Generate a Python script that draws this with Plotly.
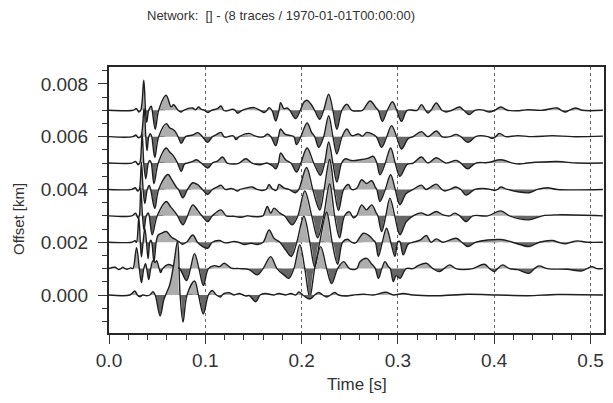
import plotly.graph_objects as go

# Trace offsets (km)
offsets_km = [0.000, 0.001, 0.002, 0.003, 0.004, 0.005, 0.006, 0.007]

# Waveforms: (time [s], amplitude [counts])
tr0 = [(0,0),(0.0217,0),(0.0268,4),(0.0294,0),(0.0320,-1.7),(0.0351,0),(0.0392,-0.7),(0.0423,0),(0.0457,3.3),(0.0480,0),
       (0.0531,-21),(0.0568,-5),(0.0588,0),(0.0630,10),(0.0671,30),(0.0712,54),(0.0738,0),(0.0769,-27),(0.0810,0),(0.0888,14),
       (0.0929,0),(0.0980,-19),(0.1032,0),(0.1073,4.5),(0.1115,0),(0.1156,-2),(0.1177,0),(0.1197,1.5),(0.1249,2.3),(0.1300,0),
       (0.1352,1.5),(0.1393,0),(0.1424,-1),(0.1455,-0.5),(0.1524,-6.7),(0.1569,0),(0.1620,1.5),(0.1713,0),(0.1765,1.5),(0.1837,0),
       (0.1889,1.5),(0.1940,0),(0.1971,3),(0.2012,0),(0.2085,-4),(0.2136,0),(0.2178,2.5),(0.2219,0),(0.2260,-2),(0.2301,0),
       (0.2343,2.5),(0.2384,0),(0.2456,-1),(0.2539,0),(0.2642,0.7),(0.2745,0),(0.2879,2.7),(0.2952,0),(0.3055,1.5),(0.3158,0),
       (0.3416,-0.7),(0.3726,0.7),(0.4035,0),(0.4345,-0.7),(0.4654,0.5),(0.5129,0)]

tr1 = [(0,0),(0.0062,1.3),(0.0083,0),(0.0103,-1),(0.0124,0),(0.0144,1.3),(0.0165,0),(0.0186,-0.7),(0.0206,0),(0.0227,0.7),
       (0.0248,0),(0.0286,21),(0.0315,0),(0.0337,-14),(0.0361,0),(0.0379,5),(0.0392,0),(0.0413,-11),(0.0433,0),(0.0457,8),
       (0.0480,6),(0.0495,8),(0.0521,0),(0.0537,-4),(0.0557,0),(0.0609,4),(0.0681,2),(0.0733,0),(0.0805,-12),(0.0846,0),
       (0.0888,15),(0.0934,0),(0.0980,-17),(0.1032,0),(0.1094,3),(0.1146,2),(0.1197,5.3),(0.1269,0.5),(0.1352,0),(0.1455,-1),
       (0.1541,-6.3),(0.1600,0),(0.1679,12),(0.1744,0),(0.1816,-6.3),(0.1868,-9.7),(0.1920,0),(0.1981,24),(0.2033,0),(0.2085,-29),
       (0.2136,0),(0.2198,22),(0.2260,0),(0.2312,-15),(0.2374,0),(0.2436,7),(0.2497,0),(0.2549,-1),(0.2575,0),(0.2608,7),
       (0.2676,10.3),(0.2724,5),(0.2766,0),(0.2797,-9.7),(0.2833,0),(0.2866,7),(0.2900,2),(0.2921,0),(0.2952,-13),(0.2982,-7),
       (0.3021,-9.7),(0.3086,0),(0.3158,0),(0.3210,3),(0.3295,5.3),(0.3364,0),(0.3433,-3),(0.3478,0),(0.3537,3.7),(0.3602,0),
       (0.3674,-1),(0.3777,0),(0.3898,4.3),(0.3953,0),(0.4001,-3),(0.4035,0),(0.4087,3.7),(0.4159,0),(0.4242,-1),(0.4362,-4.7),
       (0.4417,0),(0.4466,2.7),(0.4551,0),(0.4757,-0.7),(0.4912,-2.3),(0.4964,0),(0.5016,2),(0.5067,0),(0.5129,0)]

tr2 = [(0,0),(0.0237,0),(0.0270,1.5),(0.0285,0),(0.0310,25),(0.0325,0),(0.0337,-14.7),(0.0354,0),(0.0372,13.7),(0.0389,0),
       (0.0406,-16.3),(0.0423,0),(0.0433,2),(0.0444,0),(0.0467,-19.7),(0.0490,0),(0.0509,7),(0.0547,9),(0.0595,10.7),(0.0650,5),
       (0.0702,2),(0.0733,0),(0.0764,-2),(0.0805,0),(0.0870,7.3),(0.0918,0),(0.0973,-4.3),(0.1025,-6),(0.1073,0),(0.1146,1.7),
       (0.1187,0),(0.1218,-0.7),(0.1259,0),(0.1300,0.7),(0.1342,0),(0.1404,-2.3),(0.1476,-1),(0.1538,-2.3),(0.1600,0),(0.1662,12.3),
       (0.1713,4),(0.1775,0),(0.1834,-7.7),(0.1892,-14.3),(0.1950,0),(0.2023,26),(0.2085,0),(0.2136,-25),(0.2188,0),(0.2260,30),
       (0.2317,0),(0.2374,-22),(0.2425,0),(0.2477,3),(0.2518,0),(0.2549,-1),(0.2570,0),(0.2642,9),(0.2711,5.7),(0.2745,2),
       (0.2766,0),(0.2797,-14.3),(0.2838,0),(0.2882,14),(0.2926,0),(0.2969,-14.3),(0.2998,0),(0.3013,1),(0.3024,0),(0.3055,-12.7),
       (0.3106,-2),(0.3158,0),(0.3230,2),(0.3295,6.7),(0.3344,0),(0.3398,3.3),(0.3468,0),(0.3605,4),(0.3664,0),(0.3726,-4.3),
       (0.3808,0),(0.4066,2.7),(0.4190,0),(0.4362,-4.3),(0.4469,0),(0.4603,1.7),(0.4665,0),(0.4737,-1.7),(0.4799,0),(0.4861,1.3),
       (0.4964,0),(0.5129,0)]

tr3 = [(0,0),(0.0237,0),(0.0276,2.7),(0.0302,-2.3),(0.0315,0),(0.0330,28),(0.0348,0),(0.0364,-14),(0.0387,0),(0.0408,3),
       (0.0418,0),(0.0449,-19),(0.0501,0),(0.0595,14.3),(0.0640,9),(0.0691,3),(0.0712,0),(0.0767,-9),(0.0815,0),(0.0870,11),
       (0.0918,6),(0.0965,0),(0.1025,-5.7),(0.1073,0),(0.1163,6),(0.1218,0),(0.1300,-0.5),(0.1373,-1.5),(0.1434,0),(0.1486,-0.7),
       (0.1569,-0.7),(0.1600,0),(0.1644,9.3),(0.1679,2.7),(0.1713,7.7),(0.1775,2.7),(0.1822,0),(0.1902,-9),(0.1961,0),(0.2033,25),
       (0.2105,0),(0.2167,-22),(0.2229,0),(0.2291,32),(0.2343,0),(0.2394,-22),(0.2446,0),(0.2497,4),(0.2523,0),(0.2539,-2),
       (0.2570,0),(0.2624,11),(0.2673,6),(0.2728,11),(0.2776,2.7),(0.2792,0),(0.2831,-15.7),(0.2874,0),(0.2917,17.7),(0.2967,0),
       (0.3021,-19),(0.3086,-6),(0.3158,0),(0.3240,3),(0.3313,0.5),(0.3398,4.3),(0.3468,1),(0.3540,0),(0.3588,2.7),(0.3643,0),
       (0.3708,-5.7),(0.3777,0),(0.3932,0),(0.4069,5),(0.4159,0),(0.4362,-4),(0.4500,0),(0.4654,1),(0.5129,0)]

tr4 = [(0,0),(0.0237,0),(0.0273,1.7),(0.0299,-1.7),(0.0315,0),(0.0337,27),(0.0354,0),(0.0372,-14),(0.0397,0),(0.0418,4),
       (0.0433,0),(0.0475,-19),(0.0516,0),(0.0612,15),(0.0650,10),(0.0702,2),(0.0722,0),(0.0767,-8.3),(0.0815,0),(0.0870,6.7),
       (0.0918,5),(0.0970,0),(0.1025,-5),(0.1073,0),(0.1125,2.5),(0.1163,4.3),(0.1207,0),(0.1269,1),(0.1300,0),(0.1334,-1.7),
       (0.1362,0),(0.1404,1),(0.1489,2.5),(0.1538,0),(0.1589,-1),(0.1631,0),(0.1662,5),(0.1692,1),(0.1708,0),(0.1723,-1),
       (0.1744,0),(0.1765,5),(0.1816,1.5),(0.1868,0),(0.1937,-3.3),(0.1971,0),(0.2051,22),(0.2116,0),(0.2188,-20.7),(0.2234,0),
       (0.2291,30),(0.2338,0),(0.2384,-21),(0.2436,0),(0.2487,5),(0.2518,0),(0.2570,1),(0.2624,9.7),(0.2673,6),(0.2728,8.7),
       (0.2766,2),(0.2781,0),(0.2814,-12),(0.2869,0),(0.2924,14.7),(0.2972,0),(0.3021,-15.3),(0.3086,-4),(0.3158,0),(0.3244,4.3),
       (0.3292,0),(0.3398,5.3),(0.3457,0),(0.3488,-1.5),(0.3540,0),(0.3602,2.5),(0.3653,0),(0.3708,-5.7),(0.3798,0),(0.3880,1),
       (0.3963,0),(0.4004,-1),(0.4035,0),(0.4069,2.5),(0.4138,0),(0.4362,-3.3),(0.4448,0),(0.4551,1.7),(0.4654,0),(0.5129,0)]

tr5 = [(0,0),(0.0237,0),(0.0276,1.7),(0.0302,-1.7),(0.0320,0),(0.0344,29),(0.0361,0),(0.0382,-15.7),(0.0408,0),(0.0423,2.7),
       (0.0439,0),(0.0467,-20.7),(0.0511,0),(0.0595,15),(0.0630,11),(0.0671,7),(0.0712,0),(0.0750,-8.3),(0.0784,-1),(0.0815,0),
       (0.0870,1.7),(0.0905,3.3),(0.0960,0),(0.1025,-5),(0.1073,0),(0.1125,2),(0.1180,6),(0.1228,0),(0.1300,-1),(0.1352,0),
       (0.1421,4.3),(0.1486,0),(0.1569,-1.7),(0.1641,0),(0.1696,-2.7),(0.1731,-5.7),(0.1760,0),(0.1782,10),(0.1834,3.3),(0.1889,0),
       (0.1947,-9),(0.1992,0),(0.2057,15),(0.2126,0),(0.2195,-12.3),(0.2239,0),(0.2281,21),(0.2325,0),(0.2366,-19),(0.2415,0),
       (0.2453,4.3),(0.2521,2.5),(0.2608,3.3),(0.2694,5),(0.2745,6.7),(0.2781,0),(0.2814,-11.7),(0.2869,0),(0.2924,15),(0.2972,0),
       (0.3021,-13.3),(0.3096,-1.5),(0.3158,0),(0.3244,6),(0.3313,0),(0.3398,5.3),(0.3498,0),(0.3605,2.7),(0.3653,0),(0.3726,-5.7),
       (0.3808,0),(0.3932,0.5),(0.4069,3.3),(0.4190,0),(0.4262,-1),(0.4345,0),(0.4654,1.5),(0.4861,0),(0.5129,0)]

tr6 = [(0,0),(0.0248,0),(0.0279,1.7),(0.0304,-1),(0.0330,0),(0.0364,28),(0.0382,0),(0.0395,-14),(0.0413,0),(0.0430,3),
       (0.0444,0),(0.0475,-20.7),(0.0516,0),(0.0595,13),(0.0630,9),(0.0681,6),(0.0717,0),(0.0750,-6.7),(0.0795,0),(0.0870,1.7),
       (0.0922,4),(0.0970,0),(0.1025,-5.7),(0.1073,0),(0.1115,2),(0.1163,4.3),(0.1192,0),(0.1207,-0.5),(0.1238,0),(0.1280,1),
       (0.1300,0),(0.1318,-3),(0.1352,0),(0.1455,3.3),(0.1507,1),(0.1538,0),(0.1569,-0.5),(0.1610,0),(0.1644,2.7),(0.1682,0),
       (0.1731,-9),(0.1760,0),(0.1782,7.7),(0.1827,2.5),(0.1889,1),(0.1920,0),(0.1947,-8),(0.1992,0),(0.2057,13.7),(0.2105,4),
       (0.2136,0),(0.2178,-10.7),(0.2229,0),(0.2281,21),(0.2325,0),(0.2366,-17.3),(0.2420,0),(0.2470,7.7),(0.2521,1),(0.2590,2.7),
       (0.2632,0.5),(0.2676,4.3),(0.2735,2.5),(0.2776,0),(0.2831,-10.7),(0.2884,0),(0.2934,11),(0.2986,0),(0.3037,-12.3),(0.3106,-2),
       (0.3158,0),(0.3244,5),(0.3313,0),(0.3398,5.7),(0.3457,0),(0.3478,-0.5),(0.3540,0),(0.3605,2.3),(0.3653,0),(0.3726,-5.7),
       (0.3808,0),(0.3860,1),(0.3932,0),(0.3984,-1.7),(0.4015,0),(0.4053,3.3),(0.4118,0),(0.4242,1),(0.4396,0),(0.4603,1),
       (0.4809,0),(0.5129,0.5)]

tr7 = [(0,0),(0.0248,0),(0.0286,1.7),(0.0310,-1.7),(0.0330,0),(0.0361,30),(0.0379,0),(0.0392,-12),(0.0413,0),(0.0439,4),
       (0.0449,0),(0.0480,-19),(0.0516,0),(0.0593,15),(0.0645,3.5),(0.0671,5.5),(0.0717,0),(0.0748,-1.7),(0.0774,0),(0.0867,2.3),
       (0.0898,0.5),(0.0929,3.3),(0.0960,1),(0.0991,0),(0.1025,-2.3),(0.1063,0),(0.1125,1.7),(0.1163,4.3),(0.1190,0),(0.1215,-0.7),
       (0.1245,0),(0.1280,1),(0.1310,0),(0.1334,-3),(0.1383,0),(0.1434,1.7),(0.1507,2.7),(0.1569,0),(0.1610,-2.3),(0.1641,0),
       (0.1662,2.7),(0.1692,0),(0.1731,-10.7),(0.1765,0),(0.1782,7.7),(0.1816,1.7),(0.1850,2.3),(0.1878,0),(0.1937,-8.3),(0.1987,0),
       (0.2023,8),(0.2057,10),(0.2098,6),(0.2136,0),(0.2188,-9),(0.2229,0),(0.2281,16),(0.2325,0),(0.2366,-19),(0.2418,0),
       (0.2470,6),(0.2521,0),(0.2590,-0.7),(0.2632,0),(0.2711,9.3),(0.2779,1.7),(0.2797,0),(0.2838,-11),(0.2890,0),(0.2944,8.5),
       (0.2988,0),(0.3037,-11),(0.3096,0),(0.3199,0),(0.3244,5.7),(0.3287,0),(0.3313,-2.7),(0.3344,0),(0.3398,7.3),(0.3457,0),
       (0.3502,-1.7),(0.3560,0),(0.3640,3.3),(0.3684,0),(0.3743,-4.3),(0.3798,0),(0.3846,0.7),(0.3891,0),(0.3950,-1.7),(0.4004,0),
       (0.4069,3.3),(0.4138,0),(0.4242,-0.5),(0.4293,0),(0.4345,0.5),(0.4500,0),(0.4654,2.3),(0.4696,0),(0.4740,-1.7),(0.4778,0),
       (0.4843,2.3),(0.4912,0),(0.5129,0)]

traces = [tr0, tr1, tr2, tr3, tr4, tr5, tr6, tr7]

x_ticks = [0.0, 0.1, 0.2, 0.3, 0.4, 0.5]
y_ticks = [0.000, 0.002, 0.004, 0.006, 0.008]

title_text = "Network:  [] - (8 traces / 1970-01-01T00:00:00)"
x_label = "Time [s]"
y_label = "Offset [km]"

# plotting scale: counts -> km of offset
amp_scale = 0.001 / 26.4

POS_FILL = "#adadad"
NEG_FILL = "#666666"
LINE_COL = "#1e1e1e"
TXT = "#333333"
FONT = "Liberation Sans, Arial, sans-serif"
SMOOTH = 1.0

fig = go.Figure()

for off, tr in reversed(list(zip(offsets_km, traces))):
    t = [p[0] for p in tr]
    a = [p[1] for p in tr]
    y = [off + v * amp_scale for v in a]
    ypos = [off + max(v, 0) * amp_scale for v in a]
    yneg = [off + min(v, 0) * amp_scale for v in a]
    base = dict(x=[t[0], t[-1]], y=[off, off], mode="lines",
                line=dict(width=0), hoverinfo="skip", showlegend=False)
    fig.add_trace(go.Scatter(**base))
    fig.add_trace(go.Scatter(x=t, y=ypos, mode="lines", line=dict(width=0, shape="spline", smoothing=SMOOTH),
                             fill="tonexty", fillcolor=POS_FILL, hoverinfo="skip", showlegend=False))
    fig.add_trace(go.Scatter(**base))
    fig.add_trace(go.Scatter(x=t, y=yneg, mode="lines", line=dict(width=0, shape="spline", smoothing=SMOOTH),
                             fill="tonexty", fillcolor=NEG_FILL, hoverinfo="skip", showlegend=False))
    fig.add_trace(go.Scatter(x=t, y=y, mode="lines",
                             line=dict(color=LINE_COL, width=1.4, shape="spline", smoothing=SMOOTH),
                             showlegend=False))

axis_common = dict(
    showline=True, mirror=True, linecolor="#262626", linewidth=2,
    ticks="outside", ticklen=9, tickwidth=1.2, tickcolor="#333333",
    tickfont=dict(family=FONT, size=19, color=TXT),
    zeroline=False,
)

fig.update_layout(
    width=613, height=403,
    margin=dict(l=109, r=7, t=67, b=70),
    paper_bgcolor="white", plot_bgcolor="white",
    font=dict(family=FONT, color=TXT),
    showlegend=False,
    xaxis=dict(
        range=[0, 0.514], tickvals=x_ticks, ticktext=[f"{v:.1f}" for v in x_ticks],
        showgrid=True, gridcolor="#666666", griddash="dot", gridwidth=0.7,
        minor=dict(ticks="outside", ticklen=5, tickwidth=1, tickcolor="#333333", dtick=0.02, tick0=0, showgrid=False),
        **axis_common,
    ),
    yaxis=dict(
        range=[-0.00144, 0.00864], tickvals=y_ticks, ticktext=[f"{v:.3f}" for v in y_ticks],
        showgrid=False, ticklabelstandoff=6,
        minor=dict(ticks="outside", ticklen=5, tickwidth=1, tickcolor="#333333", dtick=0.0005, tick0=0, showgrid=False),
        **axis_common,
    ),
    annotations=[
        dict(text=title_text, xref="paper", yref="paper", x=0.348, y=1.195, xanchor="center", yanchor="middle",
             showarrow=False, font=dict(family=FONT, size=13, color=TXT)),
        dict(text=x_label, xref="paper", yref="paper", x=0.501, y=-0.195, xanchor="center", yanchor="middle",
             showarrow=False, font=dict(family=FONT, size=17, color=TXT)),
        dict(text=y_label, xref="paper", yref="paper", x=-0.183, y=0.43, xanchor="center", yanchor="middle",
             textangle=-90, showarrow=False, font=dict(family=FONT, size=15, color=TXT)),
    ],
)

fig.write_html("out.html")
